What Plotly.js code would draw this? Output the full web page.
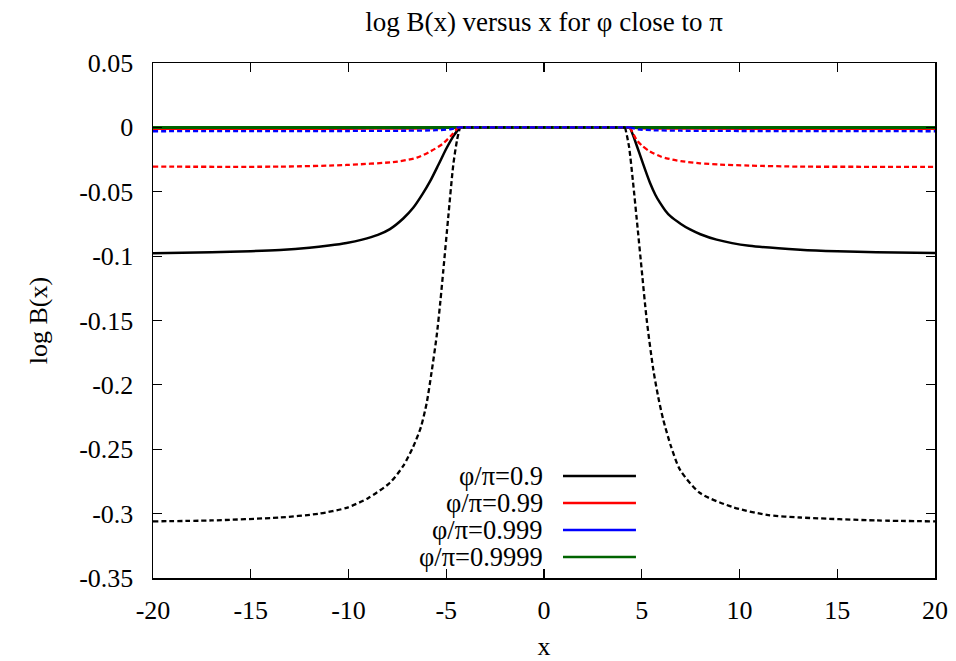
<!DOCTYPE html>
<html>
<head>
<meta charset="utf-8">
<script src="https://cdn.plot.ly/plotly-3.0.1.min.js"></script>
<style>html,body{margin:0;padding:0;background:#fff;}#chart{width:956px;height:661px;}</style>
</head>
<body>
<div id="chart"></div>
<script>
// phi/pi = 0.9 (solid black): left wing, right wing (0 between them)
const x09L = [-20,-17,-15,-13.5,-12,-11,-10.1,-9.3,-8.5,-7.88,-7.2,-6.69,-6.2,-5.83,-5.4,-4.98,-4.6,-4.3];
const y09L = [-0.0977,-0.0970,-0.0962,-0.0952,-0.0935,-0.0918,-0.0898,-0.0872,-0.0835,-0.0790,-0.0708,-0.0625,-0.0515,-0.0420,-0.0290,-0.0160,-0.0060,0];
const x09R = [4.4,4.6,4.91,5.2,5.42,5.7,5.93,6.2,6.45,7.0,7.47,8.0,8.83,10.5,13.1,15,17,20];
const y09R = [0,-0.0080,-0.0214,-0.0340,-0.0430,-0.0525,-0.0585,-0.0645,-0.0688,-0.0750,-0.0793,-0.0830,-0.0872,-0.0920,-0.0950,-0.0962,-0.0969,-0.0975];
// dashed black companion
const x09dL = [-20,-17,-13.5,-11.5,-10.1,-9,-7.88,-7.2,-6.69,-6.3,-6.0,-5.75,-5.49,-5.3,-5.15,-4.9,-4.64,-4.45,-4.3];
const y09dL = [-0.3060,-0.3053,-0.3030,-0.3000,-0.2955,-0.2880,-0.2760,-0.2630,-0.2480,-0.2330,-0.2140,-0.1900,-0.1620,-0.1350,-0.1110,-0.0700,-0.0290,-0.0100,0];
const x09dR = [4.15,4.35,4.55,4.8,5.0,5.25,5.59,5.85,6.1,6.5,6.96,7.98,9.67,11.4,13.1,17,20];
const y09dR = [0,-0.0150,-0.0420,-0.0800,-0.1110,-0.1490,-0.1880,-0.2100,-0.2270,-0.2480,-0.2660,-0.2840,-0.2950,-0.3010,-0.3030,-0.3053,-0.3060];
// phi/pi = 0.99
const x099L = [-20,-13.5,-10.1,-7.5,-5.83,-5.2,-4.64,-4.4];
const y099L = [-0.0011,-0.0011,-0.0010,-0.0009,-0.0007,-0.0005,-0.0002,0];
const x099R = [4.4,5.0,7.0,13.1,20];
const y099R = [0,-0.0006,-0.0009,-0.0011,-0.0011];
const x099dL = [-20,-13.5,-10.1,-7.5,-6.5,-5.83,-5.2,-4.64,-4.4];
const y099dL = [-0.0305,-0.0305,-0.0292,-0.0266,-0.0235,-0.0188,-0.0130,-0.0046,0];
const x099dR = [4.4,4.74,5.0,5.42,6.0,6.27,7.0,7.98,9.0,10.5,13.1,16,20];
const y099dR = [0,-0.0098,-0.0140,-0.0188,-0.0228,-0.0240,-0.0262,-0.0279,-0.0289,-0.0297,-0.0305,-0.0306,-0.0307];
// phi/pi = 0.999
const x0999L = [-20,-4.4];
const y0999L = [-0.0001,0];
const x0999R = [4.4,20];
const y0999R = [0,-0.0001];
const x0999dL = [-20,-10,-7,-5.5,-4.8,-4.4];
const y0999dL = [-0.0030,-0.0028,-0.0026,-0.0022,-0.0015,0];
const x0999dR = [4.4,4.8,5.5,7,10,20];
const y0999dR = [0,-0.0015,-0.0022,-0.0026,-0.0028,-0.0030];
// phi/pi = 0.9999
const x09999 = [-20,20];
const y09999 = [0,0];

const legendLabels = ['\u03c6/\u03c0=0.9','\u03c6/\u03c0=0.99','\u03c6/\u03c0=0.999','\u03c6/\u03c0=0.9999'];
const legendColors = ['#000000','#ff0000','#0000ff','#006400'];

const FONT = 'Liberation Serif';
const dashPat = '5px,3px';

function curve(xL, yL, xR, yR, line) {
  const lineS = Object.assign({shape:'spline', smoothing:0.7}, line);
  return [
    {x:xL, y:yL, mode:'lines', line:lineS},
    {x:[xL[xL.length-1], xR[0]], y:[yL[yL.length-1], yR[0]], mode:'lines', line:line},
    {x:xR, y:yR, mode:'lines', line:lineS}
  ];
}

const traces = [].concat(
  curve(x09L, y09L, x09R, y09R, {color:'#000000', width:2.5}),
  curve(x099L, y099L, x099R, y099R, {color:'#ff0000', width:2.5}),
  curve(x0999L, y0999L, x0999R, y0999R, {color:'#0000ff', width:2.5}),
  [{x:x09999, y:y09999, mode:'lines', line:{color:'#006400', width:3}}],
  curve(x09dL, y09dL, x09dR, y09dR, {color:'#000000', width:2.3, dash:dashPat}),
  curve(x099dL, y099dL, x099dR, y099dR, {color:'#ff0000', width:2.3, dash:dashPat}),
  curve(x0999dL, y0999dL, x0999dR, y0999dR, {color:'#0000ff', width:2.3, dash:dashPat})
).map(t => Object.assign(t, {showlegend:false, hoverinfo:'skip'}));

const rowsY = [0.198, 0.1456, 0.0932, 0.0408];
const annotations = legendLabels.map((t,i) => ({
  xref:'paper', yref:'paper', x:0.5013, y:rowsY[i], xanchor:'right', yanchor:'middle',
  text:t, showarrow:false, font:{family:FONT, size:26.5, color:'#000'}
}));
const shapes = legendColors.map((c,i) => ({
  type:'line', xref:'paper', yref:'paper', x0:0.5243, x1:0.6176, y0:rowsY[i], y1:rowsY[i],
  line:{color:c, width:2.5}
}));

const layout = {
  width:956, height:661,
  paper_bgcolor:'#fff', plot_bgcolor:'#fff',
  margin:{l:153, r:21, t:63, b:83},
  font:{family:FONT, size:24, color:'#000'},
  title:{text:'log B(x) versus x for \u03c6 close to \u03c0', x:0.569, xref:'container', xanchor:'center',
         y:1-22/661, yref:'container', yanchor:'middle', font:{family:FONT, size:27, color:'#000'}},
  xaxis:{range:[-20,20], tickvals:[-20,-15,-10,-5,0,5,10,15,20], ticktext:['-20','-15','-10','-5','0','5','10','15','20'],
         ticks:'inside', ticklen:9, tickwidth:1.2, tickcolor:'#000', mirror:'ticks', showline:true, linecolor:'#000', linewidth:1.5,
         showgrid:false, zeroline:false, tickfont:{family:FONT, size:26}, ticklabelstandoff:8,
         title:{text:'x', standoff:16, font:{family:FONT, size:26}}, automargin:false},
  yaxis:{range:[-0.35,0.05], tickvals:[0.05,0,-0.05,-0.1,-0.15,-0.2,-0.25,-0.3,-0.35],
         ticktext:['0.05','0','-0.05','-0.1','-0.15','-0.2','-0.25','-0.3','-0.35'],
         ticks:'inside', ticklen:9, tickwidth:1.2, tickcolor:'#000', mirror:'ticks', showline:true, linecolor:'#000', linewidth:1.5,
         showgrid:false, zeroline:false, tickfont:{family:FONT, size:26}, ticklabelstandoff:13,
         title:{text:'log B(x)', standoff:24, font:{family:FONT, size:26}}, automargin:false},
  annotations:annotations,
  shapes:shapes
};

Plotly.newPlot('chart', traces, layout, {displayModeBar:false, staticPlot:true});
</script>
</body>
</html>
